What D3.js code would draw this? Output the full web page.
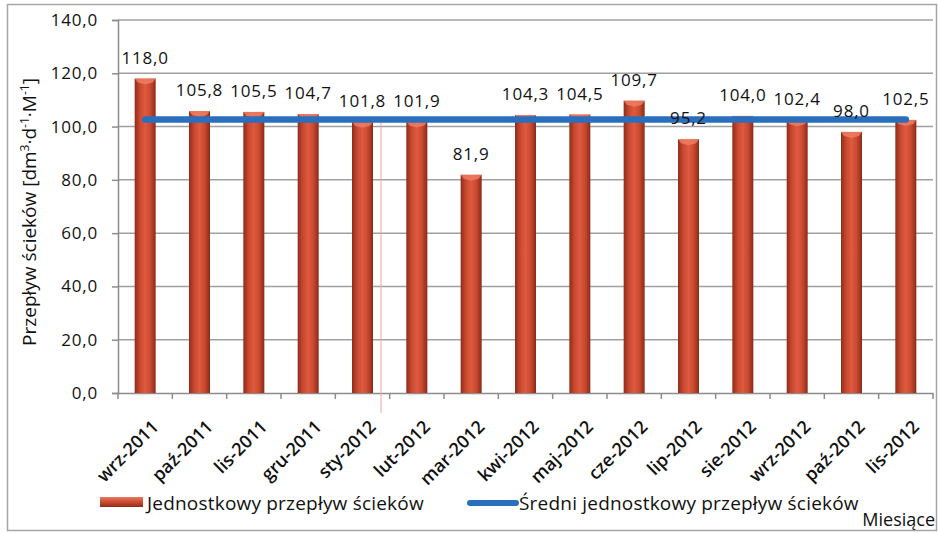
<!DOCTYPE html>
<html><head><meta charset="utf-8">
<script src="https://cdn.jsdelivr.net/npm/d3@7"></script>
<style>
body{margin:0;background:#fff;}
svg text{font-family:"Open Sans",sans-serif;fill:#111;}
</style></head>
<body><svg id="c" width="938" height="533"></svg>
<script>
const categories = ["wrz-2011","paź-2011","lis-2011","gru-2011","sty-2012","lut-2012","mar-2012","kwi-2012","maj-2012","cze-2012","lip-2012","sie-2012","wrz-2012","paź-2012","lis-2012"];
const values = [118.0,105.8,105.5,104.7,101.8,101.9,81.9,104.3,104.5,109.7,95.2,104.0,102.4,98.0,102.5];
const meanValue = 102.68;
const yTicks = [0,20,40,60,80,100,120,140];
const seriesNames = ["Jednostkowy przepływ ścieków","Średni jednostkowy przepływ ścieków"];

(function(){
const svg = d3.select("#c");
const fmt = v => d3.format(".1f")(v).replace(".", ",");
const pL = 118, pR = 933, pT = 20, pB = 393;
const x = d3.scaleBand().domain(categories).range([pL, pR]).padding(0);
const y = d3.scaleLinear().domain([0,140]).range([pB, pT]);
const bw = 21;

const defs = svg.append("defs");
const g1 = defs.append("linearGradient").attr("id","barG").attr("x1","0").attr("x2","1").attr("y1","0").attr("y2","0");
[["0%","#8e2c1a"],["25%","#c9492f"],["50%","#de5a40"],["75%","#c9492f"],["100%","#8a2a18"]].forEach(s=>g1.append("stop").attr("offset",s[0]).attr("stop-color",s[1]));
const g2 = defs.append("linearGradient").attr("id","legG").attr("x1","0").attr("x2","0").attr("y1","0").attr("y2","1");
[["0%","#ea7a60"],["50%","#cc4a30"],["100%","#8e2c1a"]].forEach(s=>g2.append("stop").attr("offset",s[0]).attr("stop-color",s[1]));

svg.append("rect").attr("x",7.5).attr("y",4.5).attr("width",929).attr("height",526).attr("fill","none").attr("stroke","#a6a6a6").attr("stroke-width",1.5);

svg.append("g").selectAll("line").data(yTicks.filter(t=>t>0)).join("line")
  .attr("x1",pL).attr("x2",pR).attr("y1",d=>y(d)).attr("y2",d=>y(d))
  .attr("stroke","#a0a0a0").attr("stroke-width",1.5);

const ya = svg.append("g").attr("transform",`translate(${pL},0)`)
  .call(d3.axisLeft(y).tickValues(yTicks).tickFormat(fmt).tickSize(6).tickPadding(14));
ya.select(".domain").attr("stroke","#8c8c8c").attr("stroke-width",1.5);
ya.selectAll(".tick line").attr("stroke","#8c8c8c").attr("stroke-width",1.5);
ya.selectAll(".tick text").attr("font-size","17px").attr("font-family","Open Sans").attr("fill","#111").attr("letter-spacing","0.8px");

const xa = svg.append("g").attr("transform",`translate(0,${pB})`)
  .call(d3.axisBottom(x).tickSize(0).tickFormat(""));
xa.select(".domain").attr("stroke","#8c8c8c").attr("stroke-width",1.5);
svg.append("g").selectAll("line").data(d3.range(categories.length+1)).join("line")
  .attr("x1",i=>pL+i*x.step()).attr("x2",i=>pL+i*x.step())
  .attr("y1",pB).attr("y2",pB+6).attr("stroke","#8c8c8c").attr("stroke-width",1.5);

svg.append("line").attr("x1",381).attr("x2",381).attr("y1",y(meanValue)).attr("y2",413)
  .attr("stroke","#f3a3a3").attr("stroke-width",1);

const bars = svg.append("g").selectAll("g").data(values).join("g");
bars.append("rect")
  .attr("x",(d,i)=>x(categories[i])+x.bandwidth()/2-bw/2).attr("width",bw)
  .attr("y",d=>y(d)).attr("height",d=>pB-y(d)).attr("fill","url(#barG)");
bars.append("path")
  .attr("d",(d,i)=>{const cx=x(categories[i])+x.bandwidth()/2, t=y(d);
    return `M${cx-bw/2},${t} L${cx+bw/2},${t} L${cx+bw/2-3},${t+4} L${cx},${t+6} L${cx-bw/2+3},${t+4} Z`;})
  .attr("fill","#ee7c62").attr("opacity",0.85);

svg.append("line")
  .attr("x1",x(categories[0])+x.bandwidth()/2).attr("x2",x(categories[categories.length-1])+x.bandwidth()/2)
  .attr("y1",y(meanValue)).attr("y2",y(meanValue))
  .attr("stroke","#2a6fbe").attr("stroke-width",6.5).attr("stroke-linecap","round");

svg.append("g").selectAll("text").data(values).join("text")
  .attr("x",(d,i)=>x(categories[i])+x.bandwidth()/2).attr("y",d=>y(d)-15)
  .attr("text-anchor","middle").attr("font-size","17px").attr("letter-spacing","0.8px").text(d=>fmt(d));

svg.append("g").selectAll("text").data(categories).join("text")
  .attr("transform",(d)=>`translate(${x(d)+x.bandwidth()/2+14.5},${pB+35}) rotate(-45)`)
  .attr("text-anchor","end").attr("font-size","18px").attr("font-weight","600").text(d=>d);

const yt = svg.append("text").attr("transform","translate(36,212) rotate(-90)")
  .attr("text-anchor","middle").attr("font-size","19px");
yt.append("tspan").text("Przepływ ścieków [dm");
yt.append("tspan").attr("font-size","12px").attr("dy","-7").text("3");
yt.append("tspan").attr("dy","7").text("·d");
yt.append("tspan").attr("font-size","12px").attr("dy","-7").text("-1");
yt.append("tspan").attr("dy","7").text("·M");
yt.append("tspan").attr("font-size","12px").attr("dy","-7").text("-1");
yt.append("tspan").attr("dy","7").text("]");

svg.append("rect").attr("x",100).attr("y",497).attr("width",43).attr("height",10).attr("fill","url(#legG)");
svg.append("text").attr("x",147).attr("y",510).attr("font-size","19px").attr("letter-spacing","0.2px").text(seriesNames[0]);
svg.append("line").attr("x1",470).attr("x2",516).attr("y1",503).attr("y2",503)
  .attr("stroke","#2a6fbe").attr("stroke-width",6).attr("stroke-linecap","round");
svg.append("text").attr("x",519).attr("y",510).attr("font-size","19px").attr("letter-spacing","0.2px").text(seriesNames[1]);
svg.append("text").attr("x",935).attr("y",526).attr("text-anchor","end").attr("font-size","18px").text("Miesiące");
})();
</script></body></html>
